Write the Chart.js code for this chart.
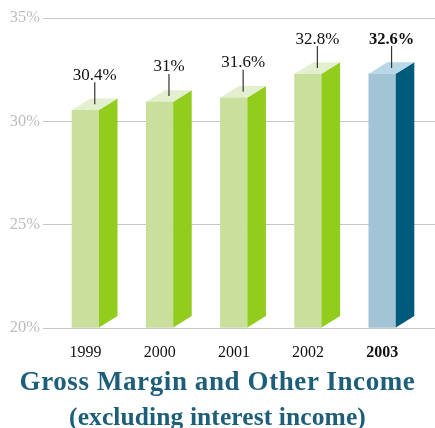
<!DOCTYPE html>
<html>
<head>
<meta charset="utf-8">
<script src="https://cdn.jsdelivr.net/npm/chart.js@4/dist/chart.umd.min.js"></script>
<style>
	html, body { margin: 0; padding: 0; background: #fff; overflow: hidden; }
	#wrap { position: relative; width: 435px; height: 428px; }
	#chart { position: absolute; left: 0; top: 0; }
	.title { position: absolute; left: 0; width: 435px; text-align: center; font-family: "Liberation Serif", serif; font-weight: bold; color: #1d5e7b; white-space: nowrap; }
	#t1 { top: 368px; font-size: 27px; line-height: 27px; letter-spacing: 0.6px; }
	#t2 { top: 403.5px; font-size: 25.5px; line-height: 25.5px; letter-spacing: 0.1px; }
</style>
</head>
<body>
<div id="wrap">
	<canvas id="chart" width="435" height="428"></canvas>
	<div class="title" id="t1">Gross Margin and Other Income</div>
	<div class="title" id="t2">(excluding interest income)</div>
</div>
<script>
// data
var years = ['1999', '2000', '2001', '2002', '2003'];
var valueLabels = ['30.4%', '31%', '31.6%', '32.8%', '32.6%'];
var barHeights = [30.55, 30.95, 31.15, 32.3, 32.3]; // heights of the drawn bar fronts
var yTicks = [20, 25, 30, 35];
var hiIndex = 4; // 2003 is highlighted

var greenFace = { front: '#c8e09b', side: '#92cc1d', top: '#e3efcf' };
var blueFace = { front: '#a2c4d4', side: '#005a7b', top: '#b9d7e6' };
var DX = 18.5, DY = 11.5; // 3d depth
var serif = '"Liberation Serif", "Times New Roman", serif';

// side + top faces, leader lines and value labels
var bar3d = {
	id: 'bar3d',
	afterDatasetsDraw: function(chart) {
		var ctx = chart.ctx;
		var meta = chart.getDatasetMeta(0);
		ctx.save();
		meta.data.forEach(function(bar, i) {
			var c = i == hiIndex ? blueFace : greenFace;
			var l = bar.x - bar.width / 2, r = bar.x + bar.width / 2;
			var t = bar.y, b = Math.min(bar.base, chart.chartArea.bottom);

			ctx.fillStyle = c.side;
			ctx.beginPath();
			ctx.moveTo(r, t);
			ctx.lineTo(r + DX, t - DY);
			ctx.lineTo(r + DX, b - DY);
			ctx.lineTo(r, b);
			ctx.closePath();
			ctx.fill();

			ctx.fillStyle = c.top;
			ctx.beginPath();
			ctx.moveTo(l, t);
			ctx.lineTo(r, t);
			ctx.lineTo(r + DX, t - DY);
			ctx.lineTo(l + DX, t - DY);
			ctx.closePath();
			ctx.fill();

			// leader line
			var lx = bar.x + DX / 2, ly = t - DY / 2;
			ctx.strokeStyle = '#333';
			ctx.lineWidth = 1.2;
			ctx.beginPath();
			ctx.moveTo(lx, ly);
			ctx.lineTo(lx, ly - 22);
			ctx.stroke();

			ctx.fillStyle = '#111';
			ctx.font = (i == hiIndex ? 'bold 16.5px ' : '17px ') + serif;
			ctx.textAlign = 'center';
			ctx.textBaseline = 'alphabetic';
			ctx.fillText(valueLabels[i], lx, ly - 24.5);
		});
		ctx.restore();
	}
};

var chart = new Chart(document.getElementById('chart'), {
	type: 'bar',
	data: {
		datasets: [{
			data: barHeights.map(function(v, i) { return { x: i, y: v }; }),
			backgroundColor: years.map(function(y, i) { return i == hiIndex ? blueFace.front : greenFace.front; }),
			borderWidth: 0,
			barThickness: 27,
			base: 20
		}]
	},
	options: {
		responsive: false,
		animation: false,
		layout: { padding: { top: 18, right: 0, bottom: 0, left: 0 } },
		plugins: { legend: { display: false }, tooltip: { enabled: false } },
		scales: {
			x: {
				type: 'linear',
				offset: false,
				min: -0.573,
				max: 4.71,
				grid: { display: false },
				border: { display: false },
				afterBuildTicks: function(axis) {
					axis.ticks = years.map(function(y, i) { return { value: i }; });
				},
				afterFit: function(axis) { axis.height = 100; },
				ticks: {
					autoSkip: false,
					maxRotation: 0,
					padding: 7,
					color: '#111',
					font: function(c) {
						var bold = c.tick && c.tick.value == hiIndex;
						return { family: serif, size: 16, weight: bold ? 'bold' : 'normal' };
					},
					callback: function(v) { return years[v]; }
				}
			},
			y: {
				min: 20,
				max: 35,
				afterBuildTicks: function(axis) {
					axis.ticks = yTicks.map(function(v) { return { value: v }; });
				},
				afterFit: function(axis) { axis.width = 43; },
				grid: { color: '#c6c6c6', lineWidth: 1, drawTicks: false },
				border: { display: false },
				ticks: {
					padding: 3,
					color: '#bdbdbd',
					font: { family: serif, size: 16.5 },
					callback: function(v) { return v + '%'; }
				}
			}
		}
	},
	plugins: [bar3d]
});
</script>
</body>
</html>
